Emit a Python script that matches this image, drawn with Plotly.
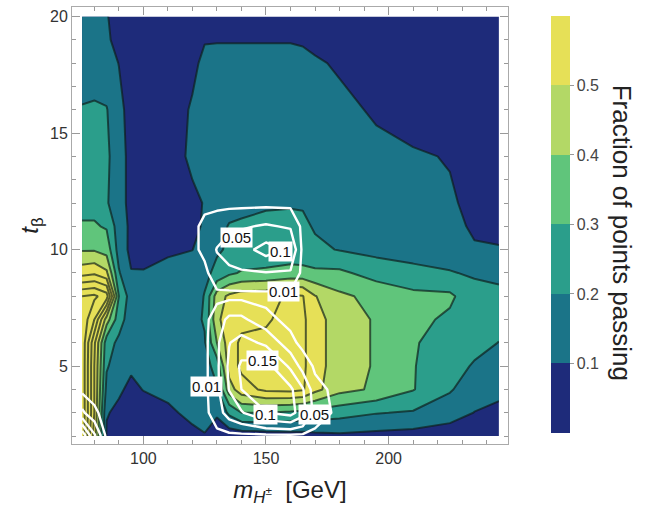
import plotly.graph_objects as go

# Grid nodes: charged Higgs mass (GeV) and tan(beta)
m_h = [75, 80, 85, 90, 95, 100, 110, 120, 125, 130, 135, 140, 150, 160, 165, 170, 180, 195, 210, 225, 235, 245]
t_beta = [2, 3, 4, 5, 6, 7, 8, 9, 10, 11, 12, 14, 16, 18, 19, 20]

# Fraction of points passing, one row per tan(beta) node
frac_passing = [
    [0.98, 0.55, 0.09, 0.07, 0.06, 0.05, 0.06, 0.08, 0.095, 0.06, 0.04, 0.04, 0.05, 0.06, 0.06, 0.07, 0.08, 0.07, 0.06, 0.05, 0.06, 0.05],
    [0.98, 0.60, 0.105, 0.085, 0.07, 0.07, 0.085, 0.12, 0.13, 0.11, 0.22, 0.30, 0.30, 0.28, 0.27, 0.26, 0.24, 0.205, 0.19, 0.14, 0.098, 0.08],
    [0.98, 0.60, 0.17, 0.11, 0.085, 0.102, 0.12, 0.15, 0.15, 0.19, 0.45, 0.56, 0.62, 0.63, 0.61, 0.53, 0.43, 0.385, 0.305, 0.21, 0.14, 0.12],
    [0.98, 0.60, 0.21, 0.15, 0.11, 0.14, 0.15, 0.16, 0.16, 0.24, 0.55, 0.62, 0.66, 0.66, 0.62, 0.54, 0.45, 0.39, 0.305, 0.24, 0.19, 0.17],
    [0.98, 0.62, 0.24, 0.18, 0.14, 0.15, 0.16, 0.17, 0.19, 0.40, 0.55, 0.62, 0.64, 0.66, 0.62, 0.54, 0.45, 0.39, 0.31, 0.25, 0.23, 0.198],
    [0.98, 0.80, 0.45, 0.24, 0.15, 0.16, 0.16, 0.17, 0.21, 0.48, 0.55, 0.57, 0.58, 0.66, 0.62, 0.54, 0.45, 0.39, 0.33, 0.28, 0.25, 0.23],
    [0.90, 0.92, 0.85, 0.30, 0.15, 0.15, 0.15, 0.15, 0.205, 0.45, 0.52, 0.55, 0.56, 0.62, 0.605, 0.505, 0.42, 0.37, 0.33, 0.32, 0.23, 0.22],
    [0.56, 0.58, 0.52, 0.21, 0.105, 0.105, 0.12, 0.13, 0.18, 0.22, 0.28, 0.31, 0.32, 0.33, 0.33, 0.32, 0.32, 0.26, 0.22, 0.205, 0.19, 0.18],
    [0.39, 0.39, 0.36, 0.16, 0.075, 0.07, 0.09, 0.099, 0.13, 0.19, 0.21, 0.22, 0.23, 0.25, 0.24, 0.22, 0.195, 0.17, 0.17, 0.16, 0.11, 0.105],
    [0.31, 0.31, 0.29, 0.15, 0.08, 0.06, 0.07, 0.08, 0.11, 0.17, 0.205, 0.21, 0.22, 0.23, 0.22, 0.19, 0.18, 0.17, 0.15, 0.13, 0.085, 0.08],
    [0.27, 0.27, 0.21, 0.14, 0.07, 0.05, 0.06, 0.08, 0.105, 0.16, 0.17, 0.18, 0.19, 0.19, 0.19, 0.18, 0.16, 0.15, 0.14, 0.11, 0.08, 0.07],
    [0.25, 0.25, 0.22, 0.14, 0.07, 0.05, 0.05, 0.12, 0.14, 0.16, 0.16, 0.16, 0.16, 0.16, 0.16, 0.16, 0.14, 0.12, 0.11, 0.095, 0.06, 0.05],
    [0.205, 0.21, 0.205, 0.13, 0.06, 0.04, 0.05, 0.11, 0.14, 0.15, 0.15, 0.15, 0.15, 0.15, 0.15, 0.15, 0.12, 0.09, 0.06, 0.05, 0.05, 0.05],
    [0.16, 0.16, 0.14, 0.098, 0.05, 0.04, 0.04, 0.08, 0.12, 0.13, 0.13, 0.13, 0.13, 0.13, 0.125, 0.11, 0.09, 0.05, 0.04, 0.04, 0.04, 0.04],
    [0.14, 0.14, 0.11, 0.08, 0.05, 0.04, 0.04, 0.06, 0.095, 0.095, 0.095, 0.095, 0.095, 0.095, 0.09, 0.08, 0.06, 0.04, 0.04, 0.04, 0.04, 0.04],
    [0.13, 0.13, 0.105, 0.07, 0.05, 0.04, 0.04, 0.05, 0.06, 0.06, 0.06, 0.06, 0.06, 0.06, 0.06, 0.05, 0.05, 0.04, 0.04, 0.04, 0.04, 0.04],
]

# Second fraction, drawn as white labelled contours
overlay_frac = [
    [0.24, 0.11, 0, 0, 0, 0, 0, 0, 0, 0, 0, 0, 0, 0, 0, 0, 0, 0, 0, 0, 0, 0],
    [0.06, 0.015, 0, 0, 0, 0, 0, 0, 0, 0.03, 0.07, 0.095, 0.148, 0.17, 0.12, 0.03, 0, 0, 0, 0, 0, 0],
    [0, 0, 0, 0, 0, 0, 0, 0, 0, 0.04, 0.102, 0.15, 0.19, 0.16, 0.105, 0.02, 0, 0, 0, 0, 0, 0],
    [0, 0, 0, 0, 0, 0, 0, 0, 0, 0.04, 0.11, 0.16, 0.17, 0.09, 0.03, 0.005, 0, 0, 0, 0, 0, 0],
    [0, 0, 0, 0, 0, 0, 0, 0, 0, 0.04, 0.098, 0.12, 0.09, 0.02, 0, 0, 0, 0, 0, 0, 0, 0],
    [0, 0, 0, 0, 0, 0, 0, 0, 0, 0.03, 0.06, 0.06, 0.02, 0, 0, 0, 0, 0, 0, 0, 0, 0],
    [0, 0, 0, 0, 0, 0, 0, 0, 0, 0, 0, 0, 0, 0, 0, 0, 0, 0, 0, 0, 0, 0],
    [0, 0, 0, 0, 0, 0, 0, 0, 0, 0.035, 0.04, 0.045, 0.048, 0.045, 0, 0, 0, 0, 0, 0, 0, 0],
    [0, 0, 0, 0, 0, 0, 0, 0, 0.02, 0.052, 0.07, 0.08, 0.12, 0.09, 0, 0, 0, 0, 0, 0, 0, 0],
    [0, 0, 0, 0, 0, 0, 0, 0, 0.02, 0.03, 0.04, 0.045, 0.055, 0.045, 0, 0, 0, 0, 0, 0, 0, 0],
    [0] * 22,
    [0] * 22,
    [0] * 22,
    [0] * 22,
    [0] * 22,
    [0] * 22,
]

# Contour labels of the white curves
label_text = ["0.05", "0.1", "0.01", "0.15", "0.01", "0.1", "0.05"]
label_x = [137.9, 155.8, 157.3, 148.5, 125.7, 149.7, 169.7]
label_y = [10.54, 9.94, 8.2, 5.26, 4.14, 2.94, 2.94]

# Colour bands of the colour bar (0-0.6 in steps of 0.1)
band_colors = ["#1e2b7a", "#1b7488", "#2b9e8b", "#60c57b", "#b3d866", "#e6e057"]
bar_ticks = [0.1, 0.2, 0.3, 0.4, 0.5]

lvl_start, lvl_end, lvl_step = 0.1, 0.9, 0.1
n_lvl = int(round((lvl_end - lvl_start) / lvl_step)) + 1

# Stepped colourscale for the filled contour: band k is sampled at s = k / n_lvl
fill_scale = []
for k in range(n_lvl + 1):
    c = band_colors[min(k, len(band_colors) - 1)]
    lo = 0 if k == 0 else (k - 0.5) / n_lvl
    hi = 1 if k == n_lvl else (k + 0.5) / n_lvl
    fill_scale += [[lo, c], [hi, c]]

# Stepped colourscale for the colour bar
nb = len(band_colors)
bar_scale = []
for k, c in enumerate(band_colors):
    bar_scale += [[k / nb, c], [(k + 1) / nb, c]]

font_family = "Liberation Sans, Arial, sans-serif"

fig = go.Figure()

fig.add_trace(go.Contour(
    x=m_h, y=t_beta, z=frac_passing,
    colorscale=fill_scale,
    contours=dict(start=lvl_start, end=lvl_end, size=lvl_step, coloring="fill"),
    line=dict(color="rgba(15,30,25,0.68)", width=2, smoothing=0),
    showscale=False, hoverinfo="skip",
))

fig.add_trace(go.Contour(
    x=m_h, y=t_beta, z=overlay_frac,
    contours=dict(start=0.01, end=0.01, size=1, coloring="none"),
    line=dict(color="white", width=2.4, smoothing=0),
    showscale=False, hoverinfo="skip",
))
fig.add_trace(go.Contour(
    x=m_h, y=t_beta, z=overlay_frac,
    contours=dict(start=0.05, end=0.2, size=0.05, coloring="none"),
    line=dict(color="white", width=2.4, smoothing=0),
    showscale=False, hoverinfo="skip",
))

# Colour bar carrier
fig.add_trace(go.Scatter(
    x=[m_h[0]], y=[t_beta[0]], mode="markers",
    marker=dict(size=0, opacity=0, color=[0], cmin=0, cmax=0.6, colorscale=bar_scale,
                showscale=True,
                colorbar=dict(x=1.0986, xanchor="left", xpad=0, y=0.5023, yanchor="middle",
                              ypad=0, len=0.954, lenmode="fraction", thickness=19,
                              outlinewidth=0, tickvals=bar_ticks, ticks="outside",
                              ticklen=4, tickcolor="#999",
                              tickfont=dict(size=16, color="#444", family=font_family))),
    hoverinfo="skip", showlegend=False,
))

for txt, lx, ly in zip(label_text, label_x, label_y):
    fig.add_annotation(x=lx, y=ly, text=txt, showarrow=False, bgcolor="white",
                       borderpad=1, font=dict(size=15, color="#111", family=font_family))

fig.add_annotation(x=1.262, y=0.483, xref="paper", yref="paper", xanchor="center", yanchor="middle",
                   text="Fraction of points passing", textangle=90, showarrow=False,
                   font=dict(size=26, color="#222", family=font_family))

axis_common = dict(showgrid=False, zeroline=False, showline=True, linecolor="#aaa", linewidth=1,
                   mirror="ticks", ticks="inside", tickcolor="#999", ticklen=8,
                   tickfont=dict(size=16, color="#333", family=font_family))

fig.update_xaxes(range=[70.9, 248.7], tickvals=[100, 150, 200],
                 minor=dict(dtick=10, tick0=0, ticks="inside", ticklen=4, tickcolor="#999"),
                 title=dict(text="<i>m</i><sub><i>H</i><sup>±</sup></sub>  [GeV]",
                            font=dict(size=24, color="#222", family=font_family), standoff=14),
                 **axis_common)
fig.update_yaxes(range=[1.66, 20.41], tickvals=[5, 10, 15, 20],
                 minor=dict(dtick=1, tick0=0, ticks="inside", ticklen=4, tickcolor="#999"),
                 title=dict(text="<i>t</i><sub>β</sub>",
                            font=dict(size=24, color="#222", family=font_family), standoff=4),
                 **axis_common)

fig.update_layout(width=645, height=510, margin=dict(l=72, r=137, t=7, b=66),
                  plot_bgcolor="white", paper_bgcolor="white", showlegend=False,
                  hovermode=False)

fig.write_html("out.html")
